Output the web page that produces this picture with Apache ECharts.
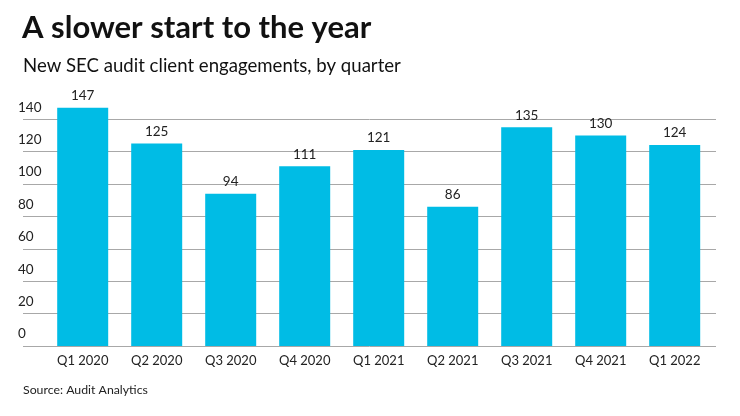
<!DOCTYPE html>
<html>
<head>
<meta charset="utf-8">
<script src="https://cdn.jsdelivr.net/npm/echarts@6/dist/echarts.min.js"></script>
<style>
html,body{margin:0;padding:0;background:#fff;}
#chart{width:740px;height:416px;}
</style>
</head>
<body>
<div id="chart"></div>
<script>
const categories = ["Q1 2020","Q2 2020","Q3 2020","Q4 2020","Q1 2021","Q2 2021","Q3 2021","Q4 2021","Q1 2022"];
const engagements = [147,125,94,111,121,86,135,130,124];
const yTicks = {min:0, max:140, interval:20};

const chart = echarts.init(document.getElementById('chart'));
const FONT = 'Lato';
chart.setOption({
  animation:false,
  backgroundColor:'#fff',
  title:[
    {text:'A slower start to the year', left:22, top:12, padding:0,
     textStyle:{fontFamily:FONT, fontWeight:'bold', fontSize:31, color:'#111'}},
    {text:'New SEC audit client engagements, by quarter', left:23, top:56, padding:0,
     textStyle:{fontFamily:FONT, fontWeight:'normal', fontSize:18.6, color:'#111'}},
    {text:'Source: Audit Analytics', left:23, top:384, padding:0,
     textStyle:{fontFamily:FONT, fontWeight:'normal', fontSize:12.3, color:'#222'}}
  ],
  grid:[
    {left:45.7, right:28.3, top:119.2, bottom:70},
    {left:23, right:24, top:119.2, bottom:70}
  ],
  xAxis:[
    {type:'category', gridIndex:0, data:categories,
     axisLine:{show:false}, axisTick:{show:false},
     axisLabel:{fontFamily:FONT, fontSize:13, color:'#222', margin:8}},
    {type:'value', gridIndex:1, show:false, min:0, max:1}
  ],
  yAxis:[
    {type:'value', gridIndex:0, min:yTicks.min, max:yTicks.max, interval:yTicks.interval,
     show:false, splitLine:{show:false}},
    {type:'value', gridIndex:1, min:yTicks.min, max:yTicks.max, interval:yTicks.interval,
     axisLine:{show:false}, axisTick:{show:false},
     splitLine:{show:true, lineStyle:{color:'#a8a8a8', width:1}},
     axisLabel:{fontFamily:FONT, fontSize:13.5, color:'#222', align:'left', margin:5,
       verticalAlign:'bottom', padding:[0,0,5,0]}}
  ],
  series:[
    {type:'bar', xAxisIndex:0, yAxisIndex:0, data:engagements, barWidth:51, clip:false,
     itemStyle:{color:'#00BCE5'}, z:3,
     label:{show:true, position:'top', distance:5, fontFamily:FONT, fontSize:13.5, color:'#222'}}
  ]
});
</script>
</body>
</html>
